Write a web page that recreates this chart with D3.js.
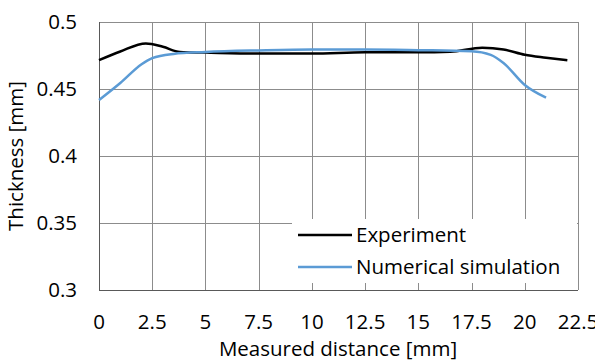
<!DOCTYPE html>
<html>
<head>
<meta charset="utf-8">
<script src="https://cdn.jsdelivr.net/npm/d3@7"></script>
<style>
  html, body { margin: 0; padding: 0; background: #fff; }
  svg { display: block; font-family: "Open Sans", sans-serif; }
</style>
</head>
<body>
<div id="chart"></div>
<script>
const width = 595;
const height = 363;

// Values
const xTicks = [0, 2.5, 5, 7.5, 10, 12.5, 15, 17.5, 20, 22.5];
const yTicks = [0.3, 0.35, 0.4, 0.45, 0.5];

const experimentX = [0, 1, 2.2, 3, 3.8, 5, 7.5, 10, 12.5, 15, 16.5, 18, 19, 20, 21, 22];
const experimentY = [0.4715, 0.478, 0.484, 0.4815, 0.4777, 0.4772, 0.4764, 0.4764, 0.4774, 0.4774, 0.4778, 0.4808, 0.4795, 0.4755, 0.4733, 0.4714];

const simulationX = [0, 1, 2, 2.5, 3.5, 5, 7.5, 10, 12.5, 15, 17.5, 18.4, 19, 20, 21];
const simulationY = [0.4418, 0.4545, 0.4685, 0.4731, 0.4762, 0.4776, 0.4788, 0.4795, 0.4795, 0.479, 0.4782, 0.4755, 0.4694, 0.453, 0.4435];

const seriesNames = ["Experiment", "Numerical simulation"];
const seriesColors = ["#000000", "#5b9bd5"];

const fontSize = 20.5;
const margin = { top: 22, right: 17, bottom: 73, left: 99 };

const x = d3.scaleLinear().domain([0, 22.5]).range([margin.left, width - margin.right]);
const y = d3.scaleLinear().domain([0.3, 0.5]).range([height - margin.bottom, margin.top]);

const svg = d3
  .select("#chart")
  .append("svg")
  .attr("width", width)
  .attr("height", height);

// grid
const grid = svg.append("g").attr("stroke", "#8c8c8c").attr("stroke-width", 1);
grid
  .selectAll("line.v")
  .data(xTicks)
  .join("line")
  .attr("class", "v")
  .attr("x1", (d) => Math.round(x(d)) + 0.5)
  .attr("x2", (d) => Math.round(x(d)) + 0.5)
  .attr("y1", y(0.5))
  .attr("y2", y(0.3));
grid
  .selectAll("line.h")
  .data(yTicks)
  .join("line")
  .attr("class", "h")
  .attr("x1", x(0))
  .attr("x2", x(22.5))
  .attr("y1", (d) => Math.round(y(d)) + 0.5)
  .attr("y2", (d) => Math.round(y(d)) + 0.5);

// axis lines a bit darker
svg
  .append("line")
  .attr("x1", Math.round(x(0)) + 0.5)
  .attr("x2", Math.round(x(0)) + 0.5)
  .attr("y1", y(0.5))
  .attr("y2", y(0.3))
  .attr("stroke", "#595959");
svg
  .append("line")
  .attr("x1", x(0))
  .attr("x2", x(22.5))
  .attr("y1", Math.round(y(0.3)) + 0.5)
  .attr("y2", Math.round(y(0.3)) + 0.5)
  .attr("stroke", "#595959");

// legend box covers the grid
const legend = svg.append("g");
legend
  .append("rect")
  .attr("x", 292)
  .attr("y", 219)
  .attr("width", x(22.5) - 292 - 1)
  .attr("height", 64)
  .attr("fill", "#fff");

// series
const line = d3
  .line()
  .x((d) => x(d[0]))
  .y((d) => y(d[1]))
  .curve(d3.curveMonotoneX);

const series = [
  d3.zip(experimentX, experimentY),
  d3.zip(simulationX, simulationY),
];

svg
  .append("g")
  .selectAll("path")
  .data(series)
  .join("path")
  .attr("fill", "none")
  .attr("stroke", (d, i) => seriesColors[i])
  .attr("stroke-width", 2.5)
  .attr("stroke-linejoin", "round")
  .attr("d", line);

// tick labels
svg
  .append("g")
  .attr("font-size", fontSize)
  .attr("fill", "#000")
  .attr("text-anchor", "end")
  .selectAll("text")
  .data(yTicks)
  .join("text")
  .attr("x", 77)
  .attr("y", (d) => y(d) + 7)
  .text((d) => d);

svg
  .append("g")
  .attr("font-size", fontSize)
  .attr("fill", "#000")
  .attr("text-anchor", "middle")
  .selectAll("text")
  .data(xTicks)
  .join("text")
  .attr("x", (d) => x(d))
  .attr("y", 329)
  .text((d) => d);

// axis titles
svg
  .append("text")
  .attr("transform", `translate(23,${(y(0.3) + y(0.5)) / 2}) rotate(-90)`)
  .attr("text-anchor", "middle")
  .attr("font-size", fontSize)
  .text("Thickness [mm]");

svg
  .append("text")
  .attr("x", 338)
  .attr("y", 356)
  .attr("text-anchor", "middle")
  .attr("font-size", fontSize)
  .text("Measured distance [mm]");

// legend entries
const entry = legend
  .selectAll("g.entry")
  .data(seriesNames)
  .join("g")
  .attr("class", "entry")
  .attr("transform", (d, i) => `translate(298,${235 + i * 32})`);
entry
  .append("line")
  .attr("x1", 0)
  .attr("x2", 54)
  .attr("stroke", (d, i) => seriesColors[i])
  .attr("stroke-width", 2.5);
entry
  .append("text")
  .attr("x", 58)
  .attr("y", 7)
  .attr("font-size", fontSize)
  .text((d) => d);
</script>
</body>
</html>
